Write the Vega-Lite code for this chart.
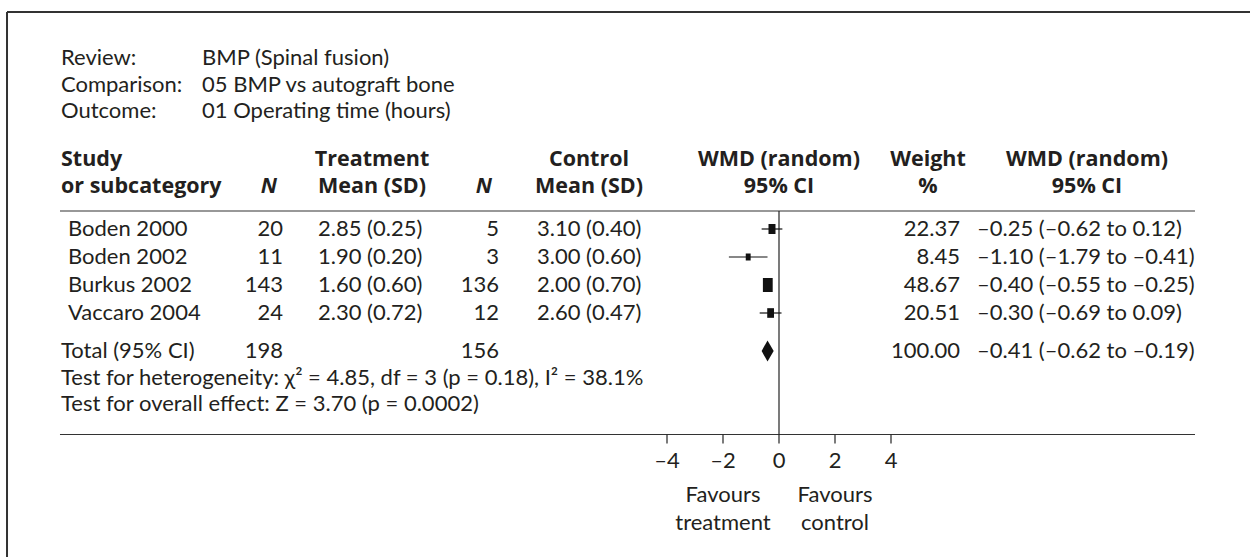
{
  "$schema": "https://vega.github.io/schema/vega-lite/v6.json",
  "width": 1250,
  "height": 557,
  "autosize": {"type": "none"},
  "padding": 0,
  "background": "white",
  "config": {
    "view": {"stroke": null},
    "font": "Lato",
    "text": {"font": "Lato", "fontSize": 22, "color": "#231f20"}
  },
  "datasets": {
    "studies": [
      {"study": "Boden 2000", "n_t": 20, "mean_t": 2.85, "sd_t": 0.25, "n_c": 5, "mean_c": 3.10, "sd_c": 0.40, "wmd": -0.25, "lo": -0.62, "hi": 0.12, "weight": 22.37},
      {"study": "Boden 2002", "n_t": 11, "mean_t": 1.90, "sd_t": 0.20, "n_c": 3, "mean_c": 3.00, "sd_c": 0.60, "wmd": -1.10, "lo": -1.79, "hi": -0.41, "weight": 8.45},
      {"study": "Burkus 2002", "n_t": 143, "mean_t": 1.60, "sd_t": 0.60, "n_c": 136, "mean_c": 2.00, "sd_c": 0.70, "wmd": -0.40, "lo": -0.55, "hi": -0.25, "weight": 48.67},
      {"study": "Vaccaro 2004", "n_t": 24, "mean_t": 2.30, "sd_t": 0.72, "n_c": 12, "mean_c": 2.60, "sd_c": 0.47, "wmd": -0.30, "lo": -0.69, "hi": 0.09, "weight": 20.51}
    ],
    "total": [
      {"label": "Total (95% CI)", "n_t": 198, "n_c": 156, "wmd": -0.41, "lo": -0.62, "hi": -0.19, "weight": 100.00}
    ],
    "ticks": [{"t": -4}, {"t": -2}, {"t": 0}, {"t": 2}, {"t": 4}],
    "one": [{}]
  },
  "layer": [
    {
      "data": {"name": "one"},
      "mark": {"type": "rule", "color": "#333333", "strokeWidth": 2},
      "encoding": {
        "x": {"datum": -27.571, "type": "quantitative", "scale": {"domain": [-27.8214, 16.8214], "nice": false, "zero": false}, "axis": null},
        "x2": {"datum": 17.5},
        "y": {"datum": -6.75, "type": "quantitative", "scale": {"domain": [-7.17857, 12.71429], "nice": false, "zero": false, "reverse": true}, "axis": null}
      }
    },
    {
      "data": {"name": "one"},
      "mark": {"type": "rule", "color": "#333333", "strokeWidth": 2},
      "encoding": {
        "x": {"datum": -27.571, "type": "quantitative", "axis": null},
        "y": {"datum": -6.75, "type": "quantitative", "axis": null},
        "y2": {"datum": 13.5}
      }
    },
    {
      "data": {"name": "one"},
      "mark": {"type": "rule", "color": "#333333", "strokeWidth": 1.2},
      "encoding": {
        "x": {"datum": -25.679, "type": "quantitative", "axis": null},
        "x2": {"datum": 14.857},
        "y": {"datum": 0.357, "type": "quantitative", "axis": null}
      }
    },
    {
      "data": {"name": "one"},
      "mark": {"type": "rule", "color": "#333333", "strokeWidth": 1.2},
      "encoding": {
        "x": {"datum": -25.679, "type": "quantitative", "axis": null},
        "x2": {"datum": 14.857},
        "y": {"datum": 8.339, "type": "quantitative", "axis": null}
      }
    },
    {
      "data": {"name": "one"},
      "mark": {"type": "rule", "color": "#222222", "strokeWidth": 1.2},
      "encoding": {
        "x": {"datum": 0, "type": "quantitative", "axis": null},
        "y": {"datum": 0.357, "type": "quantitative", "axis": null},
        "y2": {"datum": 8.339}
      }
    },
    {
      "data": {"name": "ticks"},
      "transform": [
        {"calculate": "(datum.t < 0 ? '–' : '') + abs(datum.t)", "as": "lab"}
      ],
      "layer": [
        {
          "mark": {"type": "rule", "color": "#222222", "strokeWidth": 1.2},
          "encoding": {
            "x": {"field": "t", "type": "quantitative", "axis": null},
            "y": {"datum": 8.339, "type": "quantitative", "axis": null},
            "y2": {"datum": 8.66}
          }
        },
        {
          "mark": {"type": "text", "align": "center", "baseline": "middle"},
          "encoding": {
            "x": {"field": "t", "type": "quantitative", "axis": null},
            "y": {"datum": 9.268, "type": "quantitative", "axis": null},
            "text": {"field": "lab"}
          }
        }
      ]
    },
    {
      "data": {"name": "one"},
      "mark": {"type": "text", "align": "left", "baseline": "alphabetic", "lineHeight": 26.5},
      "encoding": {
        "x": {"datum": -25.643, "type": "quantitative", "axis": null},
        "y": {"datum": -4.857, "type": "quantitative", "axis": null},
        "text": {"value": ["Review:", "Comparison:", "Outcome:"]}
      }
    },
    {
      "data": {"name": "one"},
      "mark": {"type": "text", "align": "left", "baseline": "alphabetic", "lineHeight": 26.5},
      "encoding": {
        "x": {"datum": -20.607, "type": "quantitative", "axis": null},
        "y": {"datum": -4.857, "type": "quantitative", "axis": null},
        "text": {"value": ["BMP (Spinal fusion)", "05 BMP vs autograft bone", "01 Operating time (hours)"]}
      }
    },
    {
      "data": {"name": "one"},
      "mark": {"type": "text", "align": "left", "baseline": "alphabetic", "lineHeight": 27, "font": "Open Sans", "fontSize": 21.5, "fontWeight": "bold"},
      "encoding": {
        "x": {"datum": -25.643, "type": "quantitative", "axis": null},
        "y": {"datum": -1.25, "type": "quantitative", "axis": null},
        "text": {"value": ["Study", "or subcategory"]}
      }
    },
    {
      "data": {"name": "one"},
      "mark": {"type": "text", "align": "right", "baseline": "alphabetic", "font": "Open Sans", "fontSize": 21.5, "fontWeight": "bold", "fontStyle": "italic"},
      "encoding": {
        "x": {"datum": -17.929, "type": "quantitative", "axis": null},
        "y": {"datum": -0.2857, "type": "quantitative", "axis": null},
        "text": {"value": "N"}
      }
    },
    {
      "data": {"name": "one"},
      "mark": {"type": "text", "align": "center", "baseline": "alphabetic", "lineHeight": 27, "font": "Open Sans", "fontSize": 21.5, "fontWeight": "bold"},
      "encoding": {
        "x": {"datum": -14.536, "type": "quantitative", "axis": null},
        "y": {"datum": -1.25, "type": "quantitative", "axis": null},
        "text": {"value": ["Treatment", "Mean (SD)"]}
      }
    },
    {
      "data": {"name": "one"},
      "mark": {"type": "text", "align": "right", "baseline": "alphabetic", "font": "Open Sans", "fontSize": 21.5, "fontWeight": "bold", "fontStyle": "italic"},
      "encoding": {
        "x": {"datum": -10.25, "type": "quantitative", "axis": null},
        "y": {"datum": -0.2857, "type": "quantitative", "axis": null},
        "text": {"value": "N"}
      }
    },
    {
      "data": {"name": "one"},
      "mark": {"type": "text", "align": "center", "baseline": "alphabetic", "lineHeight": 27, "font": "Open Sans", "fontSize": 21.5, "fontWeight": "bold"},
      "encoding": {
        "x": {"datum": -6.786, "type": "quantitative", "axis": null},
        "y": {"datum": -1.25, "type": "quantitative", "axis": null},
        "text": {"value": ["Control", "Mean (SD)"]}
      }
    },
    {
      "data": {"name": "one"},
      "mark": {"type": "text", "align": "center", "baseline": "alphabetic", "lineHeight": 27, "font": "Open Sans", "fontSize": 21.5, "fontWeight": "bold"},
      "encoding": {
        "x": {"datum": 0, "type": "quantitative", "axis": null},
        "y": {"datum": -1.25, "type": "quantitative", "axis": null},
        "text": {"value": ["WMD (random)", "95% CI"]}
      }
    },
    {
      "data": {"name": "one"},
      "mark": {"type": "text", "align": "center", "baseline": "alphabetic", "lineHeight": 27, "font": "Open Sans", "fontSize": 21.5, "fontWeight": "bold"},
      "encoding": {
        "x": {"datum": 5.321, "type": "quantitative", "axis": null},
        "y": {"datum": -1.25, "type": "quantitative", "axis": null},
        "text": {"value": ["Weight", "%"]}
      }
    },
    {
      "data": {"name": "one"},
      "mark": {"type": "text", "align": "center", "baseline": "alphabetic", "lineHeight": 27, "font": "Open Sans", "fontSize": 21.5, "fontWeight": "bold"},
      "encoding": {
        "x": {"datum": 11.0, "type": "quantitative", "axis": null},
        "y": {"datum": -1.25, "type": "quantitative", "axis": null},
        "text": {"value": ["WMD (random)", "95% CI"]}
      }
    },
    {
      "data": {"name": "studies"},
      "transform": [
        {"window": [{"op": "row_number", "as": "row"}]},
        {"calculate": "format(datum.mean_t, '.2f') + ' (' + format(datum.sd_t, '.2f') + ')'", "as": "mt"},
        {"calculate": "format(datum.mean_c, '.2f') + ' (' + format(datum.sd_c, '.2f') + ')'", "as": "mc"},
        {"calculate": "format(datum.weight, '.2f')", "as": "w"},
        {"calculate": "(datum.wmd < 0 ? '–' : '') + format(abs(datum.wmd), '.2f') + ' (' + (datum.lo < 0 ? '–' : '') + format(abs(datum.lo), '.2f') + ' to ' + (datum.hi < 0 ? '–' : '') + format(abs(datum.hi), '.2f') + ')'", "as": "ci"}
      ],
      "encoding": {
        "y": {"field": "row", "type": "quantitative", "axis": null}
      },
      "layer": [
        {
          "mark": {"type": "rule", "color": "#111111", "strokeWidth": 1.2},
          "encoding": {
            "x": {"field": "lo", "type": "quantitative", "axis": null},
            "x2": {"field": "hi"}
          }
        },
        {
          "mark": {"type": "point", "shape": "M-0.7,-1L0.7,-1L0.7,1L-0.7,1Z", "filled": true, "color": "#111111", "opacity": 1, "strokeWidth": 0},
          "encoding": {
            "x": {"field": "wmd", "type": "quantitative", "axis": null},
            "size": {"field": "weight", "type": "quantitative", "scale": {"domain": [8.45, 48.67], "range": [49, 196], "zero": false}, "legend": null}
          }
        },
        {
          "mark": {"type": "text", "align": "left", "baseline": "middle"},
          "encoding": {"x": {"datum": -25.393, "type": "quantitative", "axis": null}, "text": {"field": "study"}}
        },
        {
          "mark": {"type": "text", "align": "right", "baseline": "middle"},
          "encoding": {"x": {"datum": -17.714, "type": "quantitative", "axis": null}, "text": {"field": "n_t"}}
        },
        {
          "mark": {"type": "text", "align": "left", "baseline": "middle"},
          "encoding": {"x": {"datum": -16.464, "type": "quantitative", "axis": null}, "text": {"field": "mt"}}
        },
        {
          "mark": {"type": "text", "align": "right", "baseline": "middle"},
          "encoding": {"x": {"datum": -10.0, "type": "quantitative", "axis": null}, "text": {"field": "n_c"}}
        },
        {
          "mark": {"type": "text", "align": "left", "baseline": "middle"},
          "encoding": {"x": {"datum": -8.643, "type": "quantitative", "axis": null}, "text": {"field": "mc"}}
        },
        {
          "mark": {"type": "text", "align": "right", "baseline": "middle"},
          "encoding": {"x": {"datum": 6.464, "type": "quantitative", "axis": null}, "text": {"field": "w"}}
        },
        {
          "mark": {"type": "text", "align": "left", "baseline": "middle"},
          "encoding": {"x": {"datum": 7.071, "type": "quantitative", "axis": null}, "text": {"field": "ci"}}
        }
      ]
    },
    {
      "data": {"name": "total"},
      "transform": [
        {"calculate": "format(datum.weight, '.2f')", "as": "w"},
        {"calculate": "(datum.wmd < 0 ? '–' : '') + format(abs(datum.wmd), '.2f') + ' (' + (datum.lo < 0 ? '–' : '') + format(abs(datum.lo), '.2f') + ' to ' + (datum.hi < 0 ? '–' : '') + format(abs(datum.hi), '.2f') + ')'", "as": "ci"}
      ],
      "encoding": {
        "y": {"datum": 5.357, "type": "quantitative", "axis": null}
      },
      "layer": [
        {
          "mark": {"type": "text", "align": "left", "baseline": "middle"},
          "encoding": {"x": {"datum": -25.643, "type": "quantitative", "axis": null}, "text": {"field": "label"}}
        },
        {
          "mark": {"type": "text", "align": "right", "baseline": "middle"},
          "encoding": {"x": {"datum": -17.714, "type": "quantitative", "axis": null}, "text": {"field": "n_t"}}
        },
        {
          "mark": {"type": "text", "align": "right", "baseline": "middle"},
          "encoding": {"x": {"datum": -10.0, "type": "quantitative", "axis": null}, "text": {"field": "n_c"}}
        },
        {
          "mark": {"type": "text", "align": "right", "baseline": "middle"},
          "encoding": {"x": {"datum": 6.464, "type": "quantitative", "axis": null}, "text": {"field": "w"}}
        },
        {
          "mark": {"type": "text", "align": "left", "baseline": "middle"},
          "encoding": {"x": {"datum": 7.071, "type": "quantitative", "axis": null}, "text": {"field": "ci"}}
        }
      ]
    },
    {
      "data": {"name": "total"},
      "transform": [
        {"fold": ["lo", "wmd", "hi"], "as": ["part", "xv"]},
        {"calculate": "datum.part === 'wmd' ? 0.375 : 0", "as": "half"},
        {"calculate": "5.357 - datum.half", "as": "ytop"},
        {"calculate": "5.357 + datum.half", "as": "ybot"}
      ],
      "mark": {"type": "area", "orient": "vertical", "color": "#111111", "opacity": 1},
      "encoding": {
        "x": {"field": "xv", "type": "quantitative", "axis": null},
        "y": {"field": "ytop", "type": "quantitative", "axis": null},
        "y2": {"field": "ybot"}
      }
    },
    {
      "data": {"name": "one"},
      "mark": {"type": "text", "align": "left", "baseline": "middle"},
      "encoding": {
        "x": {"datum": -25.643, "type": "quantitative", "axis": null},
        "y": {"datum": 6.321, "type": "quantitative", "axis": null},
        "text": {"value": "Test for heterogeneity: χ² = 4.85, df = 3 (p = 0.18), I² = 38.1%"}
      }
    },
    {
      "data": {"name": "one"},
      "mark": {"type": "text", "align": "left", "baseline": "middle"},
      "encoding": {
        "x": {"datum": -25.643, "type": "quantitative", "axis": null},
        "y": {"datum": 7.25, "type": "quantitative", "axis": null},
        "text": {"value": "Test for overall effect: Z = 3.70 (p = 0.0002)"}
      }
    },
    {
      "data": {"name": "one"},
      "mark": {"type": "text", "align": "center", "baseline": "alphabetic", "lineHeight": 28},
      "encoding": {
        "x": {"datum": -2, "type": "quantitative", "axis": null},
        "y": {"datum": 10.75, "type": "quantitative", "axis": null},
        "text": {"value": ["Favours", "treatment"]}
      }
    },
    {
      "data": {"name": "one"},
      "mark": {"type": "text", "align": "center", "baseline": "alphabetic", "lineHeight": 28},
      "encoding": {
        "x": {"datum": 2, "type": "quantitative", "axis": null},
        "y": {"datum": 10.75, "type": "quantitative", "axis": null},
        "text": {"value": ["Favours", "control"]}
      }
    }
  ]
}
